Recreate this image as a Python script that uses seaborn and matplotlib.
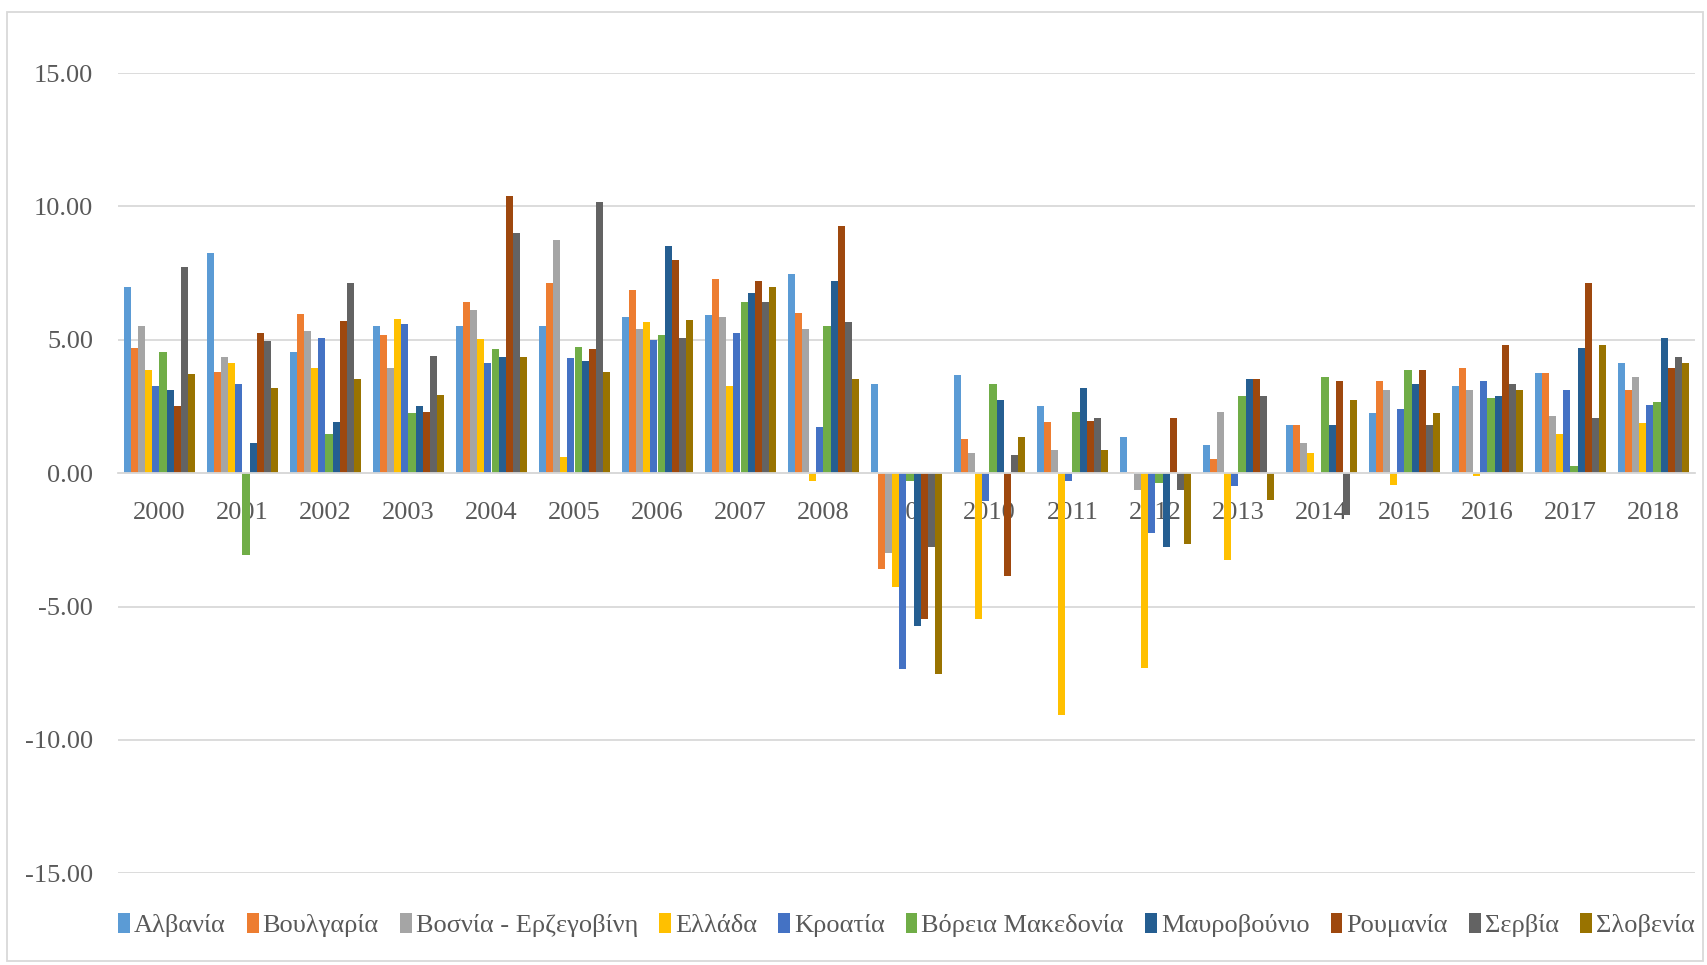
import numpy as np
import pandas as pd
import seaborn as sns
import matplotlib.pyplot as plt
from matplotlib.patches import Patch, Rectangle

# Annual growth rates (%) by country, 2000-2018
years = [str(y) for y in range(2000, 2019)]
countries = ["Αλβανία", "Βουλγαρία", "Βοσνία - Ερζεγοβίνη", "Ελλάδα", "Κροατία",
             "Βόρεια Μακεδονία", "Μαυροβούνιο", "Ρουμανία", "Σερβία", "Σλοβενία"]

albania    = [6.97, 8.25, 4.56, 5.50, 5.50, 5.50, 5.85, 5.94, 7.46, 3.35, 3.69, 2.50, 1.37, 1.04, 1.81, 2.25, 3.25, 3.77, 4.12]
bulgaria   = [4.71, 3.79, 5.96, 5.16, 6.43, 7.12, 6.87, 7.29, 6.00, -3.59, 1.29, 1.90, 0.05, 0.52, 1.81, 3.44, 3.96, 3.77, 3.10]
bosnia     = [5.50, 4.37, 5.31, 3.96, 6.10, 8.75, 5.40, 5.85, 5.40, -2.98, 0.77, 0.87, -0.63, 2.31, 1.12, 3.10, 3.10, 2.15, 3.60]
greece     = [3.87, 4.12, 3.94, 5.77, 5.02, 0.62, 5.66, 3.25, -0.30, -4.25, -5.48, -9.06, -7.31, -3.25, 0.77, -0.44, -0.10, 1.46, 1.87]
croatia    = [3.27, 3.35, 5.06, 5.59, 4.12, 4.31, 4.99, 5.25, 1.72, -7.35, -1.06, -0.28, -2.23, -0.50, -0.05, 2.41, 3.44, 3.10, 2.56]
macedonia  = [4.56, -3.06, 1.46, 2.25, 4.65, 4.72, 5.16, 6.43, 5.50, -0.31, 3.35, 2.31, -0.38, 2.91, 3.60, 3.87, 2.81, 0.25, 2.65]
montenegro = [3.10, 1.12, 1.90, 2.50, 4.37, 4.21, 8.50, 6.77, 7.21, -5.73, 2.75, 3.19, -2.75, 3.52, 1.81, 3.35, 2.91, 4.71, 5.06]
romania    = [2.50, 5.25, 5.69, 2.31, 10.40, 4.65, 8.00, 7.21, 9.27, -5.48, -3.85, 1.97, 2.06, 3.52, 3.44, 3.87, 4.81, 7.12, 3.94]
serbia     = [7.72, 4.97, 7.12, 4.40, 9.02, 10.15, 5.06, 6.43, 5.66, -2.75, 0.69, 2.06, -0.63, 2.91, -1.56, 1.81, 3.35, 2.06, 4.37]
slovenia   = [3.70, 3.19, 3.54, 2.94, 4.37, 3.79, 5.75, 6.96, 3.52, -7.53, 1.37, 0.87, -2.65, -1.00, 2.75, 2.25, 3.10, 4.81, 4.12]

series = [albania, bulgaria, bosnia, greece, croatia, macedonia,
          montenegro, romania, serbia, slovenia]

colors = ["#5B9BD5", "#ED7D31", "#A5A5A5", "#FFC000", "#4472C4",
          "#70AD47", "#255E91", "#9E480E", "#636363", "#997300"]

df = pd.DataFrame([
    {"year": y, "country": c, "value": v}
    for c, vals in zip(countries, series)
    for y, v in zip(years, vals)
])

sns.set_style("white")
plt.rcParams["font.family"] = ["Liberation Serif", "DejaVu Serif"]
text_color = "#595959"
grid_color = "#D9D9D9"

W, H = 1708, 965
fig = plt.figure(figsize=(W / 100, H / 100), dpi=100)
ax = fig.add_axes([118 / W, 1 - 873.3 / H, (1695 - 118) / W, (873.3 - 73) / H])

sns.barplot(data=df, x="year", y="value", hue="country",
            order=years, hue_order=countries, palette=colors,
            width=0.865, gap=0, saturation=1, linewidth=0,
            errorbar=None, legend=False, ax=ax)

ax.set_axisbelow(True)
ax.set_ylim(-15, 15)
ax.set_xlim(-0.5, len(years) - 0.5)
yticks = [-15, -10, -5, 0, 5, 10, 15]
ax.set_yticks(yticks)
ax.set_yticklabels([f"{t:.2f}" for t in yticks])
ax.yaxis.grid(True, color=grid_color, linewidth=1.3)
ax.xaxis.grid(False)

for side in ["left", "right", "top"]:
    ax.spines[side].set_visible(False)
ax.spines["bottom"].set_position(("data", 0))
ax.spines["bottom"].set_color(grid_color)
ax.spines["bottom"].set_linewidth(1.3)

ax.tick_params(axis="x", length=0, pad=21, labelsize=19, labelcolor=text_color)
ax.tick_params(axis="y", length=0, pad=18, labelsize=19, labelcolor=text_color)
ax.set_xlabel("")
ax.set_ylabel("")

handles = [Patch(facecolor=c, edgecolor="none") for c in colors]
fig.legend(handles, countries, ncol=10, loc="center left",
           bbox_to_anchor=(118 / W, 1 - 925 / H), frameon=False,
           fontsize=19, labelcolor=text_color,
           handlelength=0.45, handleheight=0.8, handletextpad=0.15,
           columnspacing=0.8, borderpad=0, borderaxespad=0)

# Light chart-area frame
fig.patches.append(Rectangle((7 / W, 4 / H), (1703 - 7) / W, (953 - 4) / H,
                             transform=fig.transFigure, fill=False,
                             edgecolor=grid_color, linewidth=1.3))

fig.savefig("out.png", dpi=100)
